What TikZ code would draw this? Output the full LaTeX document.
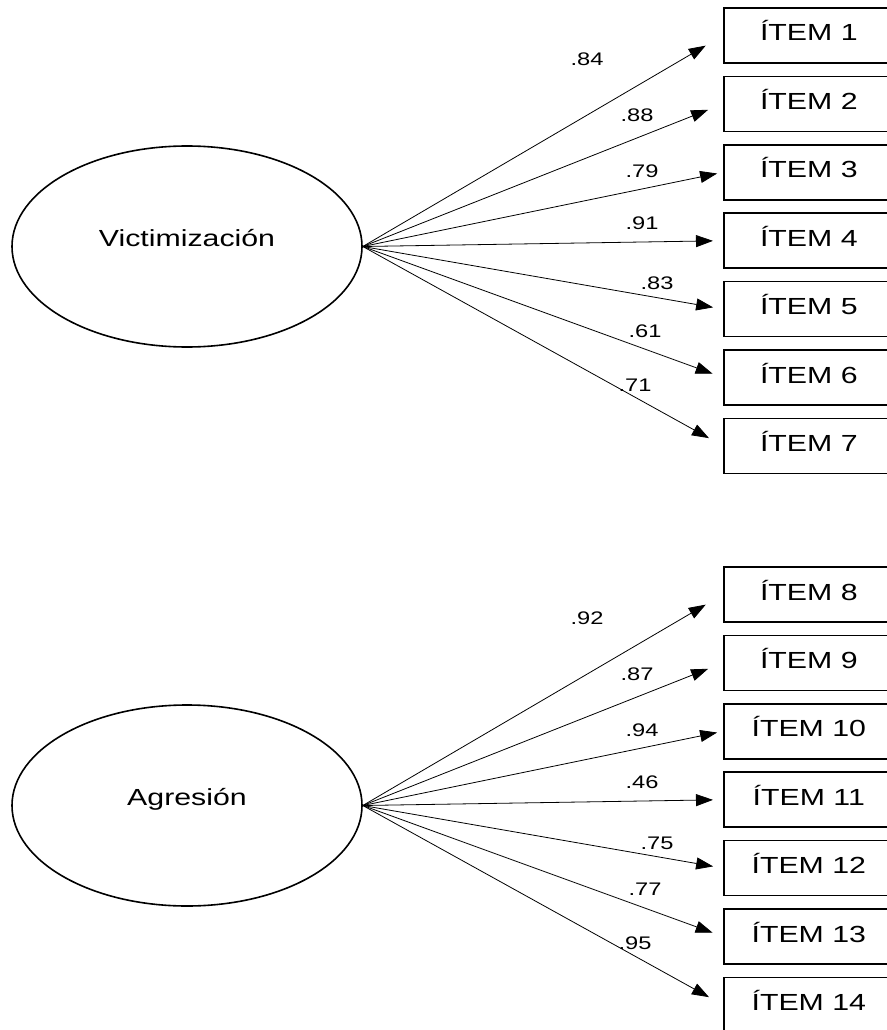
\documentclass[tikz,border=0pt]{standalone}
\usepackage{fontspec}
\setmainfont{Liberation Sans}
\usepackage{graphicx}
\usetikzlibrary{shapes.geometric,arrows.meta}
\newcommand{\wide}[1]{\scalebox{1.3}[1]{#1}}
\begin{document}
\begin{tikzpicture}[x=1pt,y=-1pt,
  factor/.style={ellipse,draw,line width=1.6pt,minimum width=350pt,minimum height=201pt,
    inner sep=0pt,text height=0pt,text depth=0pt,font=\fontsize{23.3}{28}\selectfont},
  item/.style={rectangle,draw,line width=1.6pt,minimum width=170pt,minimum height=55pt,
    anchor=west,text height=11pt,text depth=0pt,font=\fontsize{23.3}{28}\selectfont},
  load/.style={inner sep=0pt,font=\fontsize{18.2}{22}\selectfont},
  loading/.style={-{Triangle[length=17pt,width=12pt]},line width=0.8pt}]
  \useasboundingbox (0,0) rectangle (886,1030);
  \node[factor] (vic) at (187,246.5) {\wide{Victimización}};
  \node[factor] (agr) at (187,805.5) {\wide{Agresión}};
  \foreach \i in {1,...,7}{
    \node[item] (i\i) at (723,{35.5+68.4*(\i-1)}) {\wide{ÍTEM \i}};
  }
  \foreach \i in {8,...,14}{
    \node[item] (i\i) at (723,{594.5+68.4*(\i-8)}) {\wide{ÍTEM \i}};
  }
  \foreach \i/\w/\lx/\ly/\s in {1/.84/587/59/20,2/.88/637/115/16,3/.79/642/171/6,
      4/.91/642/223/10,5/.83/657/283/10,6/.61/645/331/11,7/.71/635/385/16}{
    \draw[loading,shorten >=\s pt] (vic.east) -- (i\i.west);
    \node[load] (w\i) at (\lx,\ly) {\wide{\w}};
  }
  \foreach \i/\w/\lx/\ly/\s in {8/.92/587/618/20,9/.87/637/674/16,10/.94/642/730/6,
      11/.46/642/782/10,12/.75/657/843/10,13/.77/645/889/11,14/.95/635/943/16}{
    \draw[loading,shorten >=\s pt] (agr.east) -- (i\i.west);
    \node[load] (w\i) at (\lx,\ly) {\wide{\w}};
  }
\end{tikzpicture}
\end{document}
